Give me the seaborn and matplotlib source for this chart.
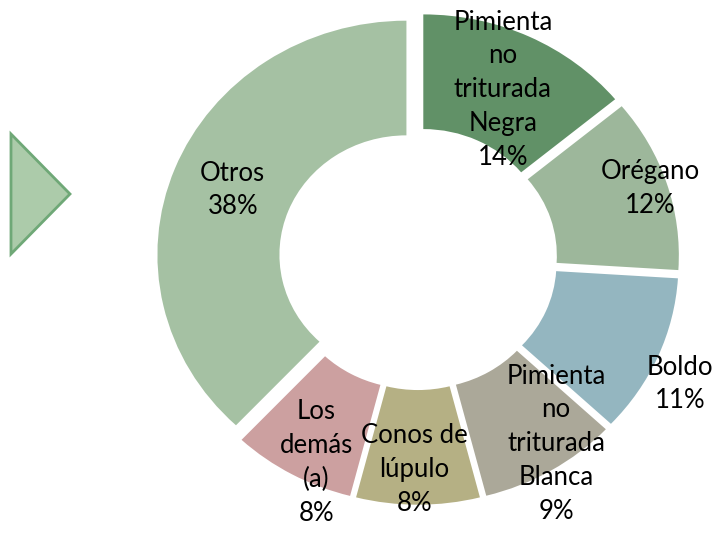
import numpy as np
import matplotlib
matplotlib.use("Agg")
import matplotlib.pyplot as plt
import seaborn as sns
from matplotlib.patches import Polygon

# ---- data ----
labels = ["Pimienta\nno\ntriturada\nNegra", "Orégano", "Boldo",
          "Pimienta\nno\ntriturada\nBlanca", "Conos de\nlúpulo",
          "Los\ndemás\n(a)", "Otros"]
shares = [14, 12, 11, 9, 8, 8, 38]
colors = ["#619167", "#9db79b", "#94b6c0", "#aba899", "#b5b084",
          "#cca0a0", "#a5c1a3"]
# label placement: radial fraction of outer radius, angular nudge (deg)
label_r = [0.80, 0.98, 1.18, 0.965, 0.90, 0.96, 0.80]
label_dang = [0.0, 0.0, 3.5, -4.5, 1.0, -3.6, 0.0]

sns.set_style("white")
plt.rcParams["font.family"] = ["Lato", "DejaVu Sans"]

W, H = 715, 534
fig = plt.figure(figsize=(W / 100, H / 100), dpi=100)
ax = fig.add_axes([0, 0, 1, 1])

cx, cy = 418, 259      # pixel centre
Rh, Rv = 249, 234      # pixel radii (horizontal, vertical)

wedges, _ = ax.pie(shares, colors=colors, startangle=90, counterclock=False,
                   explode=[0.05] * len(shares),
                   wedgeprops=dict(width=0.49, linewidth=0))

ax.set_aspect("auto")
ax.set_xlim(-cx / Rh, (W - cx) / Rh)
ax.set_ylim((cy - H) / Rv, cy / Rv)
ax.axis("off")

total = sum(shares)
cum = 0
for lab, s, rr, da in zip(labels, shares, label_r, label_dang):
    mid = (cum + s / 2) / total * 360.0 + da
    cum += s
    th = np.deg2rad(mid)
    x, y = rr * np.sin(th), rr * np.cos(th)
    ax.text(x, y, f"{lab}\n{s}%", ha="center", va="center", fontsize=18.5,
            linespacing=1.44, color="black")

# decorative triangle on the left
def px(xp, yp):
    return ((xp - cx) / Rh, (cy - yp) / Rv)

tri = Polygon([px(11, 134), px(11, 254), px(70, 194)], closed=True,
              facecolor="#accbaa", edgecolor="#6fa877", linewidth=2)
ax.add_patch(tri)

fig.savefig("out.png", dpi=100)
